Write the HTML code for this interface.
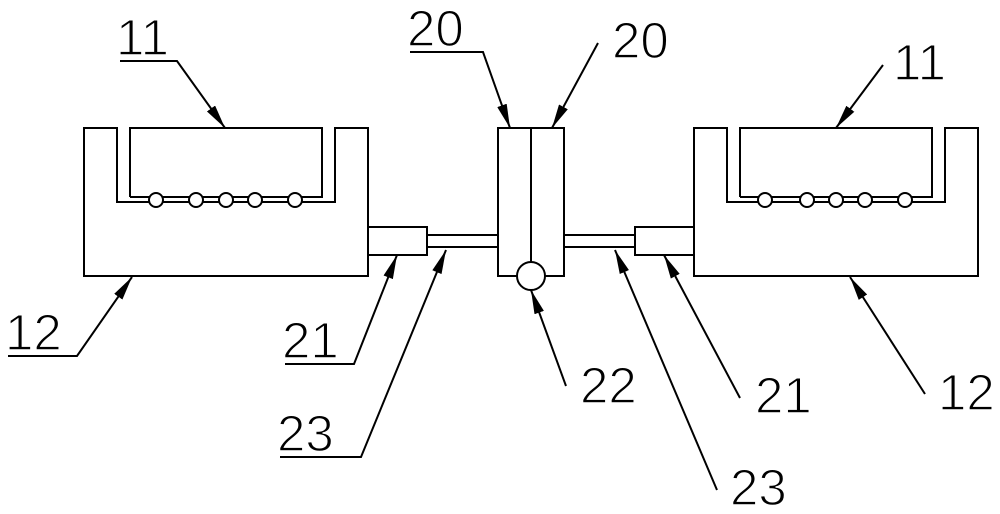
<!DOCTYPE html>
<html><head><meta charset="utf-8"><style>html,body{margin:0;padding:0;background:#fff}svg{display:block}</style></head>
<body>
<svg width="1000" height="514" viewBox="0 0 1000 514" xmlns="http://www.w3.org/2000/svg">
<defs>
<marker id="a" viewBox="0 0 24 10" refX="24" refY="5" markerWidth="24" markerHeight="10" markerUnits="userSpaceOnUse" orient="auto">
<path d="M0,0 L24,5 L0,10 z" fill="#000"/>
</marker>
</defs>
<g fill="none" stroke="#000" stroke-width="2">
<path d="M84,128 H117 V202 H335 V128 H368 V276 H84 Z"/>
<path d="M130,197 V128 H322 V197 H130"/>
<g fill="#fff"><circle cx="156" cy="200" r="7"/><circle cx="196" cy="200" r="7"/><circle cx="226" cy="200" r="7"/><circle cx="255" cy="200" r="7"/><circle cx="295" cy="200" r="7"/></g>
<rect x="368" y="227" width="59" height="28"/>
<path d="M427,235 H498 M427,247 H498"/>
<rect x="498" y="128" width="66" height="148"/>
<path d="M531,128 V262"/>
<circle cx="531" cy="276" r="14" fill="#fff"/>
<path d="M564,235 H635 M564,247 H635"/>
<rect x="635" y="227" width="59" height="28"/>
<path d="M694,128 H727 V202 H945 V128 H978 V276 H694 Z"/>
<path d="M740,197 V128 H932 V197 H740"/>
<g fill="#fff"><circle cx="765" cy="200" r="7"/><circle cx="807" cy="200" r="7"/><circle cx="836" cy="200" r="7"/><circle cx="865" cy="200" r="7"/><circle cx="905" cy="200" r="7"/></g>
<path d="M120,61 H177 L225,128" marker-end="url(#a)"/>
<path d="M410,52 H483 L510,128" marker-end="url(#a)"/>
<path d="M598,43 L552,128" marker-end="url(#a)"/>
<path d="M883,65 L836,128" marker-end="url(#a)"/>
<path d="M8,356 H77 L132,277" marker-end="url(#a)"/>
<path d="M285,364 H354 L397,255" marker-end="url(#a)"/>
<path d="M280,457 H361 L446,250" marker-end="url(#a)"/>
<path d="M566,386 L531,290" marker-end="url(#a)"/>
<path d="M717,490 L615,250" marker-end="url(#a)"/>
<path d="M740,398 L664,255" marker-end="url(#a)"/>
<path d="M925,394 L850,277" marker-end="url(#a)"/>
</g>
<g font-family="Liberation Sans, sans-serif" font-size="51" fill="#000" stroke="#fff" stroke-width="1.4">
<text x="116" y="55">11</text>
<text x="407" y="46">20</text>
<text x="612" y="58">20</text>
<text x="893" y="80">11</text>
<text x="5" y="350">12</text>
<text x="282" y="358">21</text>
<text x="277" y="451">23</text>
<text x="580" y="403">22</text>
<text x="730" y="505">23</text>
<text x="755" y="413">21</text>
<text x="938" y="410">12</text>
</g>
</svg>
</body></html>
